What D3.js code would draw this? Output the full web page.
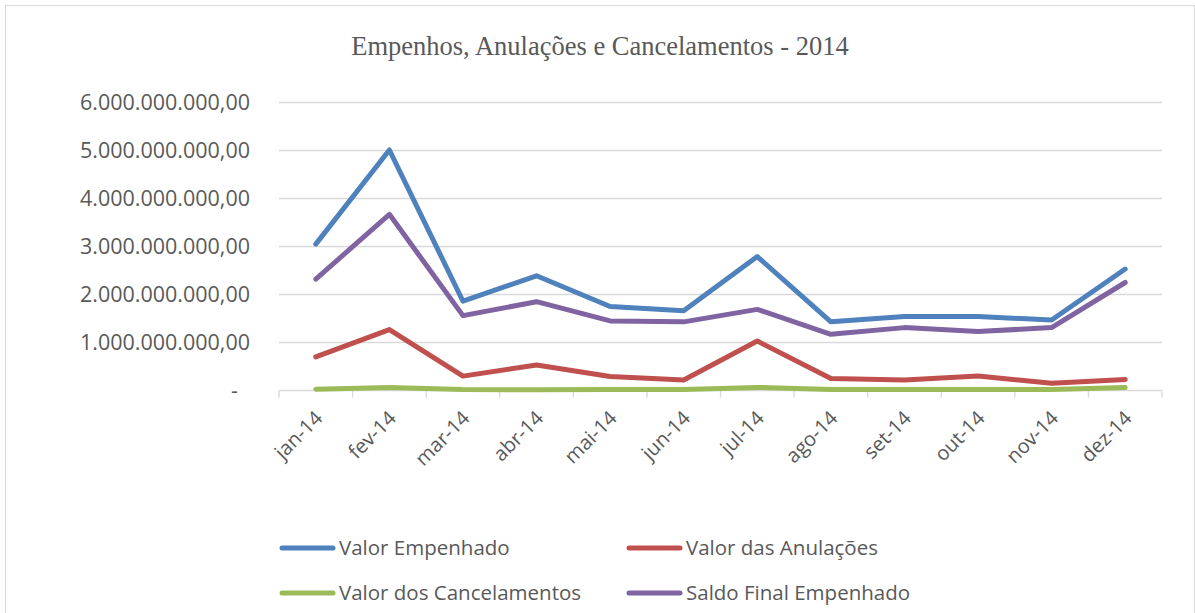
<!DOCTYPE html>
<html>
<head>
<meta charset="utf-8">
<script src="https://cdn.jsdelivr.net/npm/d3@7"></script>
<style>
  body { margin: 0; background: #fff; }
  svg text { fill: #595959; }
</style>
</head>
<body>
<div class="chart"></div>
<script>
const months = ["jan-14","fev-14","mar-14","abr-14","mai-14","jun-14","jul-14","ago-14","set-14","out-14","nov-14","dez-14"];
const empenhado = [3.05e9, 5.01e9, 1.86e9, 2.39e9, 1.75e9, 1.66e9, 2.79e9, 1.43e9, 1.54e9, 1.54e9, 1.47e9, 2.53e9];
const anulacoes = [0.70e9, 1.27e9, 0.30e9, 0.53e9, 0.29e9, 0.22e9, 1.03e9, 0.25e9, 0.22e9, 0.30e9, 0.15e9, 0.23e9];
const cancelamentos = [0.025e9, 0.065e9, 0.02e9, 0.015e9, 0.02e9, 0.02e9, 0.065e9, 0.02e9, 0.02e9, 0.02e9, 0.02e9, 0.06e9];
const saldo = [2.32e9, 3.67e9, 1.56e9, 1.85e9, 1.45e9, 1.43e9, 1.69e9, 1.17e9, 1.31e9, 1.23e9, 1.31e9, 2.25e9];
const yTicks = [0, 1e9, 2e9, 3e9, 4e9, 5e9, 6e9];

const series = [
  { name: "Valor Empenhado", values: empenhado, color: "#4f81bd" },
  { name: "Valor das Anulações", values: anulacoes, color: "#c0504d" },
  { name: "Valor dos Cancelamentos", values: cancelamentos, color: "#9bbb59" },
  { name: "Saldo Final Empenhado", values: saldo, color: "#8064a2" }
];

const W = 1195, H = 613;
const margin = { top: 102.5, left: 279, right: 33, bottom: 222.5 };
const width = W - margin.left - margin.right;
const height = H - margin.top - margin.bottom;

const svg = d3.select(".chart").append("svg")
  .attr("width", W).attr("height", H);

// outer frame
svg.append("rect")
  .attr("x", 5.5).attr("y", 5.5)
  .attr("width", W - 6).attr("height", H)
  .attr("fill", "none").attr("stroke", "#d9d9d9");

svg.append("text")
  .attr("x", 600).attr("y", 55)
  .attr("text-anchor", "middle")
  .style("font-family", "'Liberation Serif', 'Times New Roman', serif")
  .style("font-size", "26.5px")
  .text("Empenhos, Anulações e Cancelamentos - 2014");

const g = svg.append("g").attr("transform", `translate(${margin.left},${margin.top})`);

const x = d3.scaleBand().domain(months).range([0, width]);
const y = d3.scaleLinear().domain([0, 6e9]).range([height, 0]);

const fmt = v => v === 0 ? "-" : d3.format(",.2f")(v).replace(/,/g, "#").replace(".", ",").replace(/#/g, ".");

// grid
g.append("g").selectAll("line")
  .data(yTicks.filter(d => d > 0))
  .join("line")
  .attr("x1", 0).attr("x2", width)
  .attr("y1", d => y(d)).attr("y2", d => y(d))
  .attr("stroke", "#d9d9d9").attr("stroke-width", 1.3);

// y labels
const yAxis = d3.axisLeft(y).tickValues(yTicks).tickFormat(fmt).tickSize(0).tickPadding(29);
g.append("g").call(yAxis)
  .call(s => s.select(".domain").remove())
  .selectAll("text")
  .attr("dx", d => d === 0 ? -12 : 0)
  .style("font-family", "'Open Sans', 'Noto Sans', sans-serif")
  .style("font-size", "21.5px")
  .style("fill", "#595959");

// x axis baseline and ticks at band edges
const xg = g.append("g").attr("transform", `translate(0,${height})`);
xg.append("line").attr("x1", 0).attr("x2", width).attr("stroke", "#d9d9d9").attr("stroke-width", 1.3);
xg.selectAll("line.tk")
  .data(months.concat(["end"]))
  .join("line").attr("class", "tk")
  .attr("x1", (d, i) => i < months.length ? x(d) : width)
  .attr("x2", (d, i) => i < months.length ? x(d) : width)
  .attr("y1", 0).attr("y2", 7)
  .attr("stroke", "#d9d9d9").attr("stroke-width", 1.3);

xg.selectAll("text.lbl")
  .data(months)
  .join("text").attr("class", "lbl")
  .attr("transform", d => `translate(${x(d) + x.bandwidth() / 2 + 3},${24}) rotate(-45)`)
  .attr("text-anchor", "end")
  .attr("dy", "0.35em")
  .style("font-family", "'Open Sans', 'Noto Sans', sans-serif")
  .style("font-size", "20px")
  .text(d => d);

// lines
const line = d3.line()
  .x((d, i) => x(months[i]) + x.bandwidth() / 2)
  .y(d => y(d));

g.selectAll("path.series")
  .data(series)
  .join("path").attr("class", "series")
  .attr("d", d => line(d.values))
  .attr("fill", "none")
  .attr("stroke", d => d.color)
  .attr("stroke-width", 5)
  .attr("stroke-linejoin", "round")
  .attr("stroke-linecap", "round");

// legend
const legendPos = [[282, 548], [629, 548], [282, 593], [629, 593]];
const leg = svg.append("g").selectAll("g")
  .data(series)
  .join("g")
  .attr("transform", (d, i) => `translate(${legendPos[i][0]},${legendPos[i][1]})`);
leg.append("line")
  .attr("x1", 0).attr("x2", 51)
  .attr("stroke", d => d.color).attr("stroke-width", 5).attr("stroke-linecap", "round");
leg.append("text")
  .attr("x", 57).attr("dy", "0.35em")
  .style("font-family", "'Open Sans', 'Noto Sans', sans-serif")
  .style("font-size", "20.5px")
  .text(d => d.name);
</script>
</body>
</html>
